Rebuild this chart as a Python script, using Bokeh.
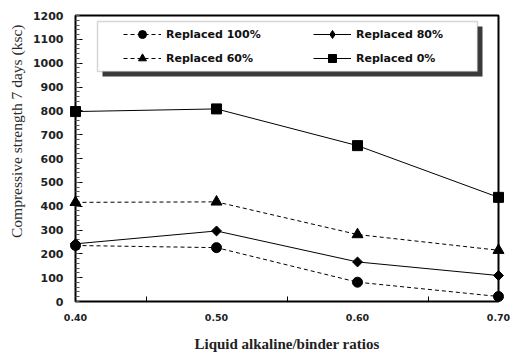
import math
from bokeh.plotting import figure
from bokeh.models import (FixedTicker, SingleIntervalTicker, Range1d, Legend, LegendItem,
                          BoxAnnotation, Title, NumeralTickFormatter)
from bokeh.embed import file_html
from bokeh.resources import INLINE

# ---- data ----
ratios = [0.40, 0.50, 0.60, 0.70]
x_ticks = [0.40, 0.50, 0.60, 0.70]
x_minor_ticks = [0.45, 0.55, 0.65]
replaced_100 = [235, 226, 81, 21]
replaced_80 = [242, 296, 166, 109]
replaced_60 = [416, 418, 281, 215]
replaced_0 = [797, 808, 654, 437]
series_labels = ["Replaced 100%", "Replaced 80%", "Replaced 60%", "Replaced 0%"]
y_title = "Compressive strength 7 days (ksc)"
x_title = "Liquid alkaline/binder ratios"

# ---- layout ----
W, H = 516, 354
BL, BR, BT, BB = 75, 18, 15, 53
FW = W - BL - BR
FH = H - BT - BB
X0, X1 = 0.40, 0.70
Y0, Y1 = 0, 1200


def dx(px):
    return px * (X1 - X0) / FW


def dy(px):
    return px * (Y1 - Y0) / FH


p = figure(width=W, height=H, output_backend="svg", toolbar_location=None,
           x_range=Range1d(X0, X1), y_range=Range1d(Y0, Y1),
           min_border_left=BL, min_border_right=BR, min_border_top=BT, min_border_bottom=BB)
p.xgrid.visible = False
p.ygrid.visible = False
p.outline_line_color = "black"
p.outline_line_width = 2
p.background_fill_color = "white"
p.border_fill_color = "white"

xa = p.xaxis[0]
xa.ticker = FixedTicker(ticks=x_ticks, minor_ticks=x_minor_ticks)
xa.formatter = NumeralTickFormatter(format="0.00")
xa.axis_line_color = None
xa.major_tick_in = 0
xa.major_tick_out = 0
xa.minor_tick_in = 5
xa.minor_tick_out = 0
xa.minor_tick_line_color = "black"
xa.major_label_standoff = 12
xa.major_label_text_font = "DejaVu Sans"
xa.major_label_text_font_style = "bold"
xa.major_label_text_font_size = "9.5px"
xa.major_label_text_color = "#222222"
xa.axis_label = x_title
xa.axis_label_standoff = 12
xa.axis_label_text_font = "Liberation Serif"
xa.axis_label_text_font_style = "bold"
xa.axis_label_text_font_size = "15px"
xa.axis_label_text_color = "#222222"

ya = p.yaxis[0]
ya.ticker = SingleIntervalTicker(interval=100, num_minor_ticks=5)
ya.axis_line_color = None
ya.major_tick_in = 7
ya.major_tick_out = 0
ya.minor_tick_in = 4
ya.minor_tick_out = 0
ya.major_tick_line_color = "black"
ya.minor_tick_line_color = "#555555"
ya.major_label_standoff = 12
ya.major_label_text_font = "DejaVu Sans"
ya.major_label_text_font_style = "bold"
ya.major_label_text_font_size = "11px"
ya.major_label_text_color = "#222222"

p.add_layout(Title(text=y_title, align="right", offset=9, standoff=10,
                   text_font="Liberation Serif", text_font_style="normal",
                   text_font_size="15.5px", text_color="#2a2a2a"), "left")

# (values, marker, size, dash, angle, legend marker, legend size)
specs = [
    (replaced_100, "circle", 10, "4 3", 0.0, "circle", 7),
    (replaced_80, "square", 7, "solid", math.pi / 4, "diamond", 9),
    (replaced_60, "triangle", 11, "4 3", 0.0, "triangle", 8),
    (replaced_0, "square", 10, "solid", 0.0, "square", 8),
]
items = []
for (vals, marker, size, dash, ang, lmarker, lsize), lab in zip(specs, series_labels):
    ln = p.line(ratios, vals, line_color="black", line_width=1, line_dash=dash)
    sc = p.scatter(ratios, vals, marker=marker, size=size, angle=ang,
                   fill_color="black", line_color="black")
    sc.level = "overlay"
    key = p.scatter(ratios, vals, marker=lmarker, size=lsize, fill_color="black", line_color="black")
    key.visible = False
    items.append(LegendItem(label=lab, renderers=[ln, key]))

# legend frame with shadow
p.add_layout(BoxAnnotation(left=X0 + dx(27), right=X0 + dx(407), top=Y1 - dy(11), bottom=Y1 - dy(61),
                           fill_color="#3a3a3a", fill_alpha=1, line_color=None))
p.add_layout(BoxAnnotation(left=X0 + dx(22), right=X0 + dx(402), top=Y1 - dy(6), bottom=Y1 - dy(56),
                           fill_color="white", fill_alpha=1, line_color="#777777", line_width=1.5))

legend = Legend(items=items, location=(48, 233), orientation="horizontal", ncols=2,
                background_fill_alpha=0, border_line_color=None, padding=0, margin=0,
                spacing=4, glyph_width=38, glyph_height=20, label_height=20,
                label_width=143, label_standoff=5,
                label_text_font="DejaVu Sans", label_text_font_style="bold",
                label_text_font_size="11px", label_text_color="#111111")
p.add_layout(legend, "center")

open("out.html", "w").write(file_html(p, INLINE))
